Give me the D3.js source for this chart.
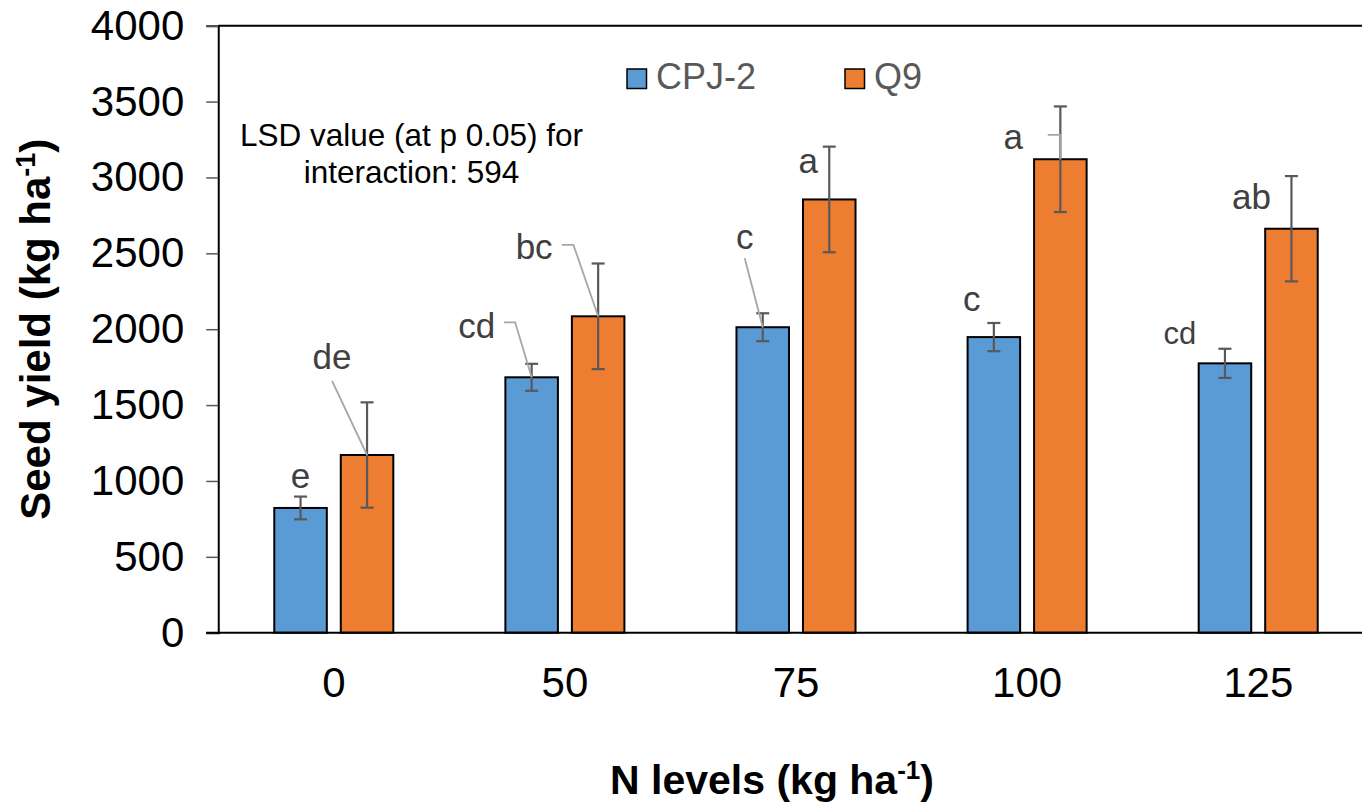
<!DOCTYPE html>
<html>
<head>
<meta charset="utf-8">
<script src="https://cdn.jsdelivr.net/npm/d3@7"></script>
<style>
  html, body { margin: 0; padding: 0; background: #fff; }
  svg { display: block; font-family: "Liberation Sans", Arial, sans-serif; }
</style>
</head>
<body>
<svg id="chart" width="1362" height="803"></svg>
<script>
// N application levels (kg ha-1)
const nLevels = ["0", "50", "75", "100", "125"];
const seriesNames = ["CPJ-2", "Q9"];

// Mean seed yield (kg ha-1) per cultivar
const cpj2Yield = [822, 1683, 2013, 1948, 1775];
const q9Yield   = [1171, 2085, 2855, 3120, 2662];

// Standard error of each mean
const cpj2Err = [75, 89, 92, 93, 96];
const q9Err   = [347, 348, 348, 348, 347];

// Mean separation letters
const cpj2Letters = ["e", "cd", "c", "c", "cd"];
const q9Letters   = ["de", "bc", "a", "a", "ab"];

const yTicks = [0, 500, 1000, 1500, 2000, 2500, 3000, 3500, 4000];

// Letter placement: [x offset from bar centre (px), baseline level (kg ha-1), font size]
const cpj2LabelPos = [[0, 952, 35], [-55, 1942, 35], [-18, 2527, 35], [-22, 2122, 35], [-45, 1905, 31]];
const q9LabelPos   = [[-35, 1738, 35], [-64, 2461, 35], [-21, 3027, 35], [-47, 3186, 35], [-40, 2795, 35]];

// Leader lines: [start dx from label centre, start dy from baseline, horizontal elbow length]
const cpj2Leaders = [null, [27.5, -15.7, 11], [0, 9, 0], null, null];
const q9Leaders   = [[0, 12, 0], [27.7, -14.3, 11.6], null, [34.4, -14.3, "bar"], null];

const svg = d3.select("#chart");
const W = 1362, H = 803;
const margin = { left: 218.25 };
const plotRight = 1373.75;

const x0 = d3.scaleBand().domain(nLevels).range([margin.left, plotRight]).padding(0);
const x1 = d3.scaleBand().domain(seriesNames)
  .range([x0.bandwidth() / 2 - 66.5, x0.bandwidth() / 2 + 66.5])
  .paddingInner(0.21).paddingOuter(0.105);
const y = d3.scaleLinear().domain([0, 4000]).range([632.7, 25.7]);

const colors = { "CPJ-2": "#5B9BD5", "Q9": "#ED7D31" };

const series = [
  { name: "CPJ-2", values: cpj2Yield, err: cpj2Err, letters: cpj2Letters, pos: cpj2LabelPos, leaders: cpj2Leaders },
  { name: "Q9", values: q9Yield, err: q9Err, letters: q9Letters, pos: q9LabelPos, leaders: q9Leaders }
];

const records = [];
series.forEach(s => {
  nLevels.forEach((lvl, i) => {
    records.push({
      series: s.name, level: lvl, value: s.values[i], err: s.err[i],
      letter: s.letters[i], pos: s.pos[i], leader: s.leaders[i]
    });
  });
});
const cx = d => x0(d.level) + x1(d.series) + x1.bandwidth() / 2;

// Top frame line
svg.append("line")
  .attr("x1", margin.left).attr("x2", W)
  .attr("y1", y(4000)).attr("y2", y(4000))
  .attr("stroke", "#000").attr("stroke-width", 2);

// Y axis
const yAxis = svg.append("g")
  .attr("transform", `translate(${margin.left},0)`)
  .call(d3.axisLeft(y).tickValues(yTicks).tickFormat(d3.format("d")).tickSize(12).tickPadding(22));
yAxis.select(".domain").attr("stroke", "#000").attr("stroke-width", 2);
yAxis.selectAll(".tick line").attr("stroke", "#595959").attr("stroke-width", 1.5);
yAxis.selectAll(".tick text")
  .attr("font-size", 42).attr("fill", "#000")
  .attr("font-family", "Liberation Sans, Arial, sans-serif");

// X axis (labels only, baseline line drawn across)
const xAxis = svg.append("g")
  .attr("transform", `translate(0,${y(0)})`)
  .call(d3.axisBottom(x0).tickSize(0).tickPadding(34));
xAxis.select(".domain").remove();
xAxis.selectAll(".tick text")
  .attr("font-size", 42).attr("fill", "#000")
  .attr("font-family", "Liberation Sans, Arial, sans-serif");

// Bars
svg.append("g").selectAll("rect")
  .data(records).join("rect")
  .attr("x", d => x0(d.level) + x1(d.series))
  .attr("width", x1.bandwidth())
  .attr("y", d => y(d.value))
  .attr("height", d => y(0) - y(d.value))
  .attr("fill", d => colors[d.series])
  .attr("stroke", "#000").attr("stroke-width", 2);

// Baseline
svg.append("line")
  .attr("x1", margin.left - 12).attr("x2", W)
  .attr("y1", y(0)).attr("y2", y(0))
  .attr("stroke", "#000").attr("stroke-width", 2);

// Error bars
const eb = svg.append("g").attr("stroke", "#595959").attr("stroke-width", 2.2);
records.forEach(d => {
  const x = cx(d);
  eb.append("line").attr("x1", x).attr("x2", x)
    .attr("y1", y(d.value + d.err)).attr("y2", y(d.value - d.err));
  [d.value + d.err, d.value - d.err].forEach(v => {
    eb.append("line").attr("x1", x - 6.5).attr("x2", x + 6.5)
      .attr("y1", y(v)).attr("y2", y(v));
  });
});

// Leader lines from letters to bar tops
const ld = svg.append("g").attr("stroke", "#A6A6A6").attr("stroke-width", 1.8).attr("fill", "none");
records.forEach(d => {
  if (!d.leader) return;
  const lx = cx(d) + d.pos[0];
  const ly = y(d.pos[1]);
  const sx = lx + d.leader[0], sy = ly + d.leader[1];
  const ex = cx(d), ey = y(d.value);
  let pts;
  if (d.leader[2] === "bar") {
    pts = [[sx, sy], [ex, sy], [ex, ey]];
  } else if (d.leader[2] > 0) {
    pts = [[sx, sy], [sx + d.leader[2], sy], [ex, ey]];
  } else {
    pts = [[sx, sy], [ex, ey]];
  }
  ld.append("path").attr("d", d3.line()(pts));
});

// Mean separation letters
svg.append("g").selectAll("text")
  .data(records).join("text")
  .attr("x", d => cx(d) + d.pos[0])
  .attr("y", d => y(d.pos[1]))
  .attr("text-anchor", "middle")
  .attr("font-size", d => d.pos[2])
  .attr("fill", "#404040")
  .text(d => d.letter);

// Legend
const legendItems = [{ name: "CPJ-2", x: 627 }, { name: "Q9", x: 845 }];
const lg = svg.append("g");
legendItems.forEach(it => {
  lg.append("rect").attr("x", it.x).attr("y", 69).attr("width", 19.5).attr("height", 19.5)
    .attr("fill", colors[it.name]).attr("stroke", "#000").attr("stroke-width", 1.5);
  lg.append("text").attr("x", it.x + 29).attr("y", 89)
    .attr("font-size", 36).attr("fill", "#595959").text(it.name);
});

// LSD note
const note = svg.append("text").attr("text-anchor", "middle").attr("font-size", 31.5).attr("fill", "#000");
note.append("tspan").attr("x", 411.5).attr("y", 145.7).text("LSD value (at p 0.05) for");
note.append("tspan").attr("x", 411.5).attr("y", 183.3).text("interaction: 594");

// Axis titles
const xt = svg.append("text").attr("x", 772).attr("y", 794)
  .attr("text-anchor", "middle").attr("font-size", 41).attr("font-weight", "bold").attr("fill", "#000");
xt.append("tspan").text("N levels (kg ha");
xt.append("tspan").attr("font-size", 26).attr("dy", -15).text("-1");
xt.append("tspan").attr("dy", 15).text(")");

const yt = svg.append("text")
  .attr("transform", `translate(50,${(y(0) + y(4000)) / 2}) rotate(-90)`)
  .attr("text-anchor", "middle").attr("font-size", 42).attr("font-weight", "bold").attr("fill", "#000");
yt.append("tspan").text("Seed yield (kg ha");
yt.append("tspan").attr("font-size", 27).attr("dy", -15).text("-1");
yt.append("tspan").attr("dy", 15).text(")");
</script>
</body>
</html>
